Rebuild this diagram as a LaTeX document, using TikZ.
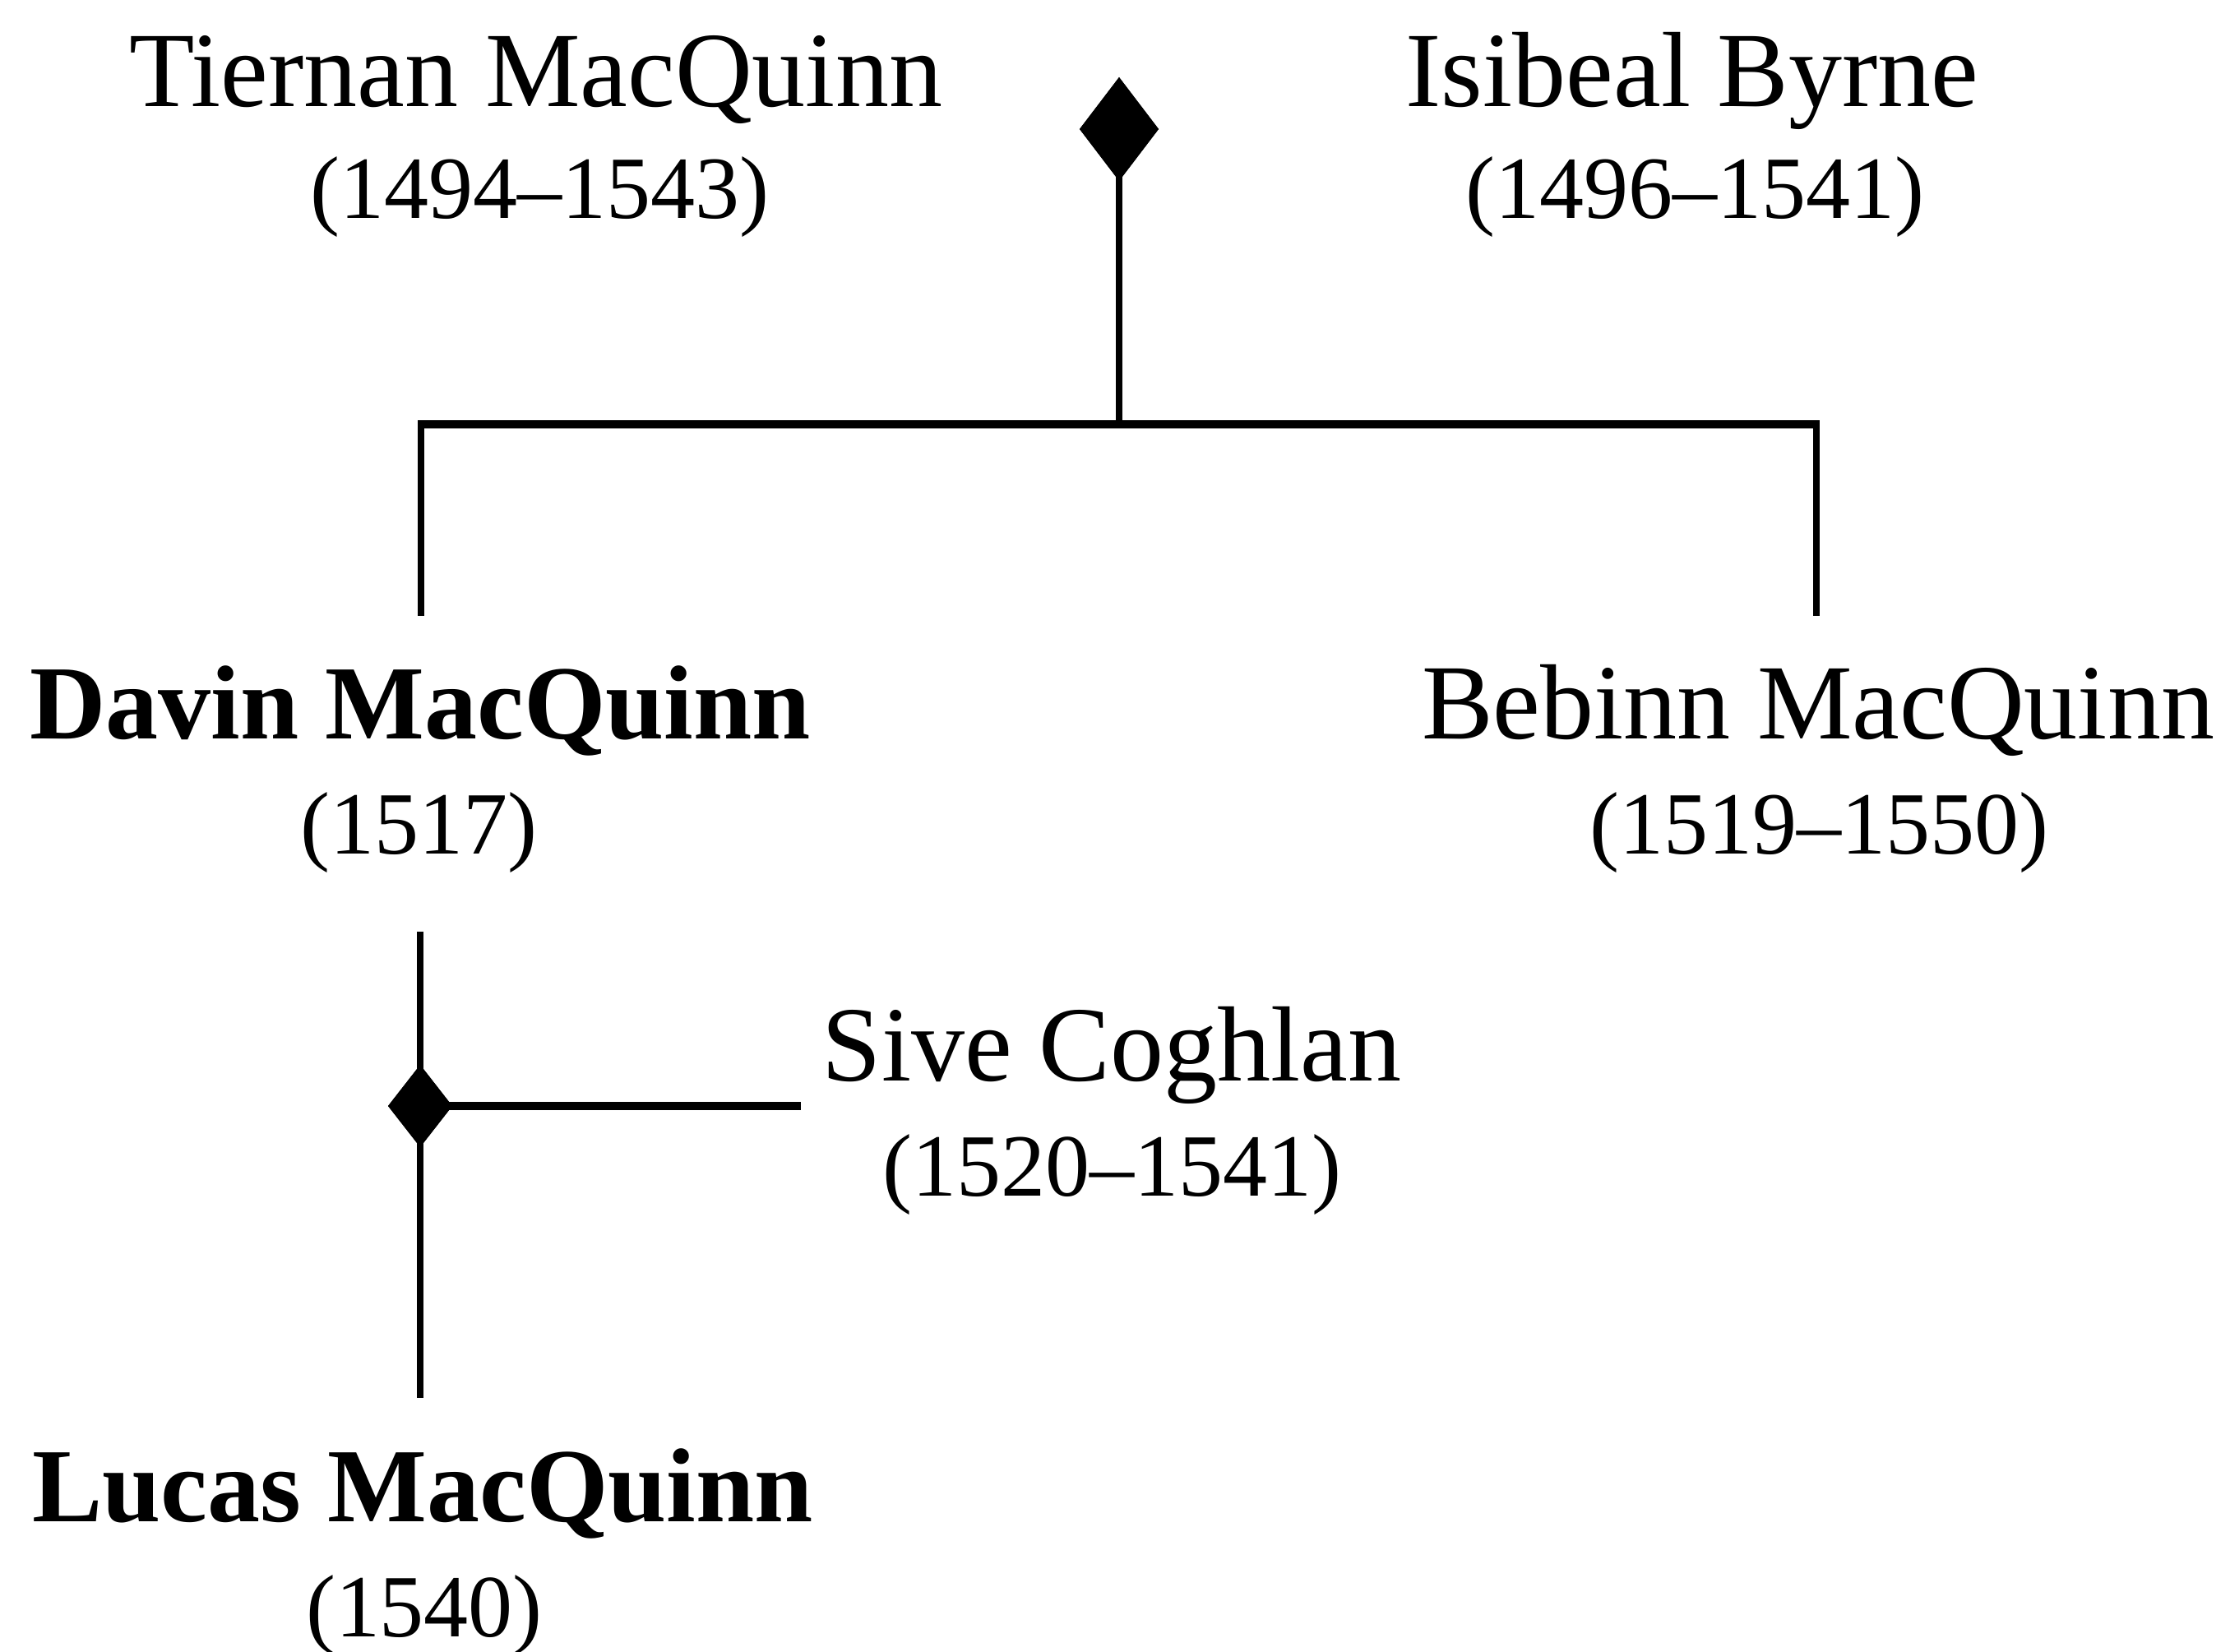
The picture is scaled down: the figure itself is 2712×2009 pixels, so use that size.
\documentclass[tikz,border=0pt]{standalone}
\usepackage{fontspec}
\setmainfont{Liberation Serif}
\usetikzlibrary{shapes.geometric}

\tikzset{
  person/.style={anchor=base, inner sep=0pt, font=\fontsize{32.5}{40}\selectfont},
  keyperson/.style={person, font=\fontsize{32}{40}\selectfont\bfseries},
  lifespan/.style={anchor=base, inner sep=0pt, font=\fontsize{27}{32}\selectfont},
  union/.style={diamond, fill=black, draw=none, inner sep=0pt, outer sep=0pt},
  vline/.style={line width=1.8pt, black},
  hline/.style={line width=2.4pt, black},
}

\begin{document}
\begin{tikzpicture}[x=0.25pt, y=-0.25pt]
  % canvas
  \path[use as bounding box, fill=white] (0,0) rectangle (2712,2009);

  % first generation
  \node[person]   (tiernan)  at (652,130)  {Tiernan MacQuinn};
  \node[lifespan] (tiernanD) at (656,266)  {(1494\textendash 1543)};
  \node[person]   (isibeal)  at (2058,130) {Isibeal Byrne};
  \node[lifespan] (isibealD) at (2061,266) {(1496\textendash 1541)};

  \node[union, minimum width=24pt, minimum height=31.5pt] (m1) at (1361,157) {};

  % children
  \node[keyperson] (davin)  at (511,899)  {Davin MacQuinn};
  \node[lifespan]  (davinD) at (509,1039) {(1517)};
  \node[person]    (bebinn)  at (2211,899)  {Bebinn MacQuinn};
  \node[lifespan]  (bebinnD) at (2212,1039) {(1519\textendash 1550)};

  % second union
  \node[union, minimum width=19.5pt, minimum height=25pt] (m2) at (511,1345) {};
  \node[person]   (sive)  at (1352,1315) {Sive Coghlan};
  \node[lifespan] (siveD) at (1352,1455) {(1520\textendash 1541)};

  % grandchild
  \node[keyperson] (lucas)  at (514,1851) {Lucas MacQuinn};
  \node[lifespan]  (lucasD) at (516,1990) {(1540)};

  % line end points
  \coordinate (bar)      at (1361,516);
  \coordinate (barL)     at (512,516);
  \coordinate (barR)     at (2209,516);
  \coordinate (davinTop) at (512,749);
  \coordinate (bebTop)   at (2209,749);
  \coordinate (davinBot) at (511,1133);
  \coordinate (siveEnd)  at (974,1345);
  \coordinate (lucasTop) at (511,1700);

  % connectors
  \draw[vline] (m1.center) -- (bar);
  \draw[hline] ([xshift=-0.9pt]barL) -- ([xshift=0.9pt]barR);
  \draw[vline] (barL) -- (davinTop);
  \draw[vline] (barR) -- (bebTop);
  \draw[vline] (davinBot) -- (m2.center) -- (lucasTop);
  \draw[hline] (m2.center) -- (siveEnd);

  % union markers on top of the line ends
  \node[union, minimum width=24pt, minimum height=31.5pt] at (m1) {};
  \node[union, minimum width=19.5pt, minimum height=25pt] at (m2) {};
\end{tikzpicture}
\end{document}
